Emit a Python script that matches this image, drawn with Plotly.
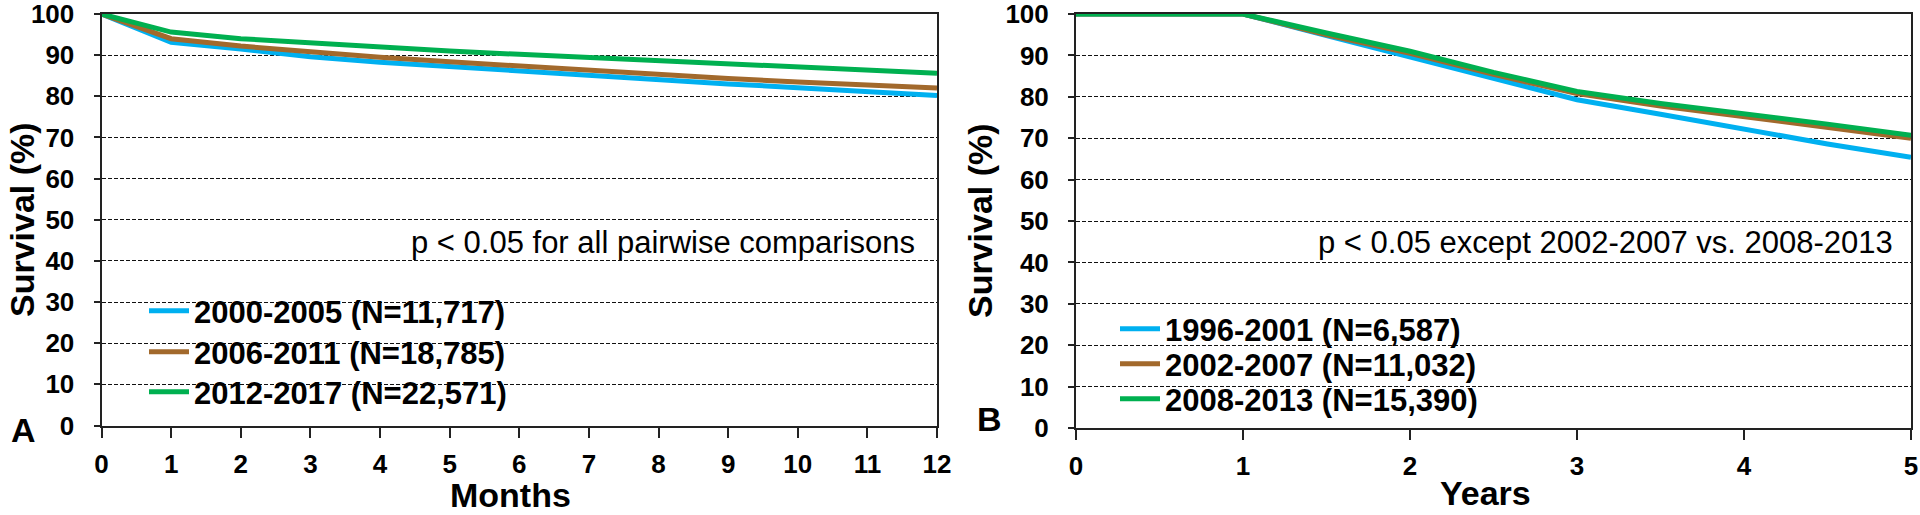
import plotly.graph_objects as go

# ---------------- data ----------------
months = [0, 1, 2, 3, 4, 5, 6, 7, 8, 9, 10, 11, 12]
a_2000_2005 = [100, 93.1, 91.5, 89.6, 88.3, 87.2, 86.1, 85.0, 84.0, 83.0, 82.1, 81.2, 80.2]
a_2006_2011 = [100, 94.0, 92.2, 90.7, 89.5, 88.4, 87.3, 86.2, 85.2, 84.3, 83.5, 82.7, 82.0]
a_2012_2017 = [100, 95.6, 94.0, 92.9, 91.9, 91.0, 90.2, 89.4, 88.6, 87.8, 87.1, 86.3, 85.6]
names_a = ["2000-2005 (N=11,717)", "2006-2011 (N=18,785)", "2012-2017 (N=22,571)"]

years = [0, 1, 1.5, 2, 2.5, 3, 3.5, 4, 4.5, 5]
b_1996_2001 = [100, 100, 94.8, 89.6, 84.3, 79.3, 75.8, 72.2, 68.6, 65.4]
b_2002_2007 = [100, 100, 95.0, 90.5, 85.4, 80.8, 77.8, 75.2, 72.6, 70.0]
b_2008_2013 = [100, 100, 95.4, 91.0, 85.9, 81.3, 78.4, 76.0, 73.4, 70.7]
names_b = ["1996-2001 (N=6,587)", "2002-2007 (N=11,032)", "2008-2013 (N=15,390)"]

y_ticks = [0, 10, 20, 30, 40, 50, 60, 70, 80, 90, 100]
x_ticks_a = months
x_ticks_b = [0, 1, 2, 3, 4, 5]

colors = ["#00B0F0", "#A2692C", "#00B050"]

W, H = 1920, 515
FONT = "Liberation Sans, Arial, sans-serif"


def px(x):
    return x / W


def py(y):
    return (H - y) / H


fig = go.Figure()

series_a = [a_2000_2005, a_2006_2011, a_2012_2017]
series_b = [b_1996_2001, b_2002_2007, b_2008_2013]

for i, (vals, name) in enumerate(zip(series_a, names_a)):
    fig.add_trace(go.Scatter(x=months, y=vals, mode="lines", name=name,
                             line=dict(color=colors[i], width=5),
                             xaxis="x", yaxis="y",
                             legend="legend" if i == 0 else f"legend{i + 1}"))
for i, (vals, name) in enumerate(zip(series_b, names_b)):
    fig.add_trace(go.Scatter(x=years, y=vals, mode="lines", name=name,
                             line=dict(color=colors[i], width=5),
                             xaxis="x2", yaxis="y2",
                             legend=f"legend{i + 4}"))

tickfont = dict(family=FONT, size=26, color="black", weight="bold")

common_x = dict(showgrid=False, zeroline=False, showline=True, linecolor="#222",
                linewidth=2, mirror=True, ticks="outside", ticklen=10, tickwidth=2,
                tickcolor="#222", tickfont=tickfont, ticklabelstandoff=4,
                ticklabeloverflow="allow", automargin=False)
common_y = dict(showgrid=True, gridcolor="#111", gridwidth=1, griddash="4px,2px",
                zeroline=False, showline=True, linecolor="#222", linewidth=2,
                mirror=True, ticks="outside", ticklen=6, tickwidth=2,
                tickcolor="#222", tickfont=tickfont, range=[0, 100],
                tickvals=y_ticks, ticklabelstandoff=14, ticklabeloverflow="allow",
                automargin=False)

fig.update_layout(
    width=W, height=H,
    margin=dict(l=0, r=0, t=0, b=0, autoexpand=False),
    paper_bgcolor="white", plot_bgcolor="white",
    showlegend=True,
    xaxis=dict(domain=[px(101.5), px(937)], anchor="y", range=[0, 12],
               tickvals=x_ticks_a, **common_x),
    yaxis=dict(domain=[py(425.5), py(14)], anchor="x", **common_y),
    xaxis2=dict(domain=[px(1076), px(1911)], anchor="y2", range=[0, 5],
                tickvals=x_ticks_b, **common_x),
    yaxis2=dict(domain=[py(428), py(14)], anchor="x2", **common_y),
)

# white boxes behind the legends (hide gridlines, drawn under the curves)
fig.add_shape(type="rect", xref="paper", yref="paper", layer="between",
              x0=px(110), x1=px(546), y0=py(418), y1=py(280),
              fillcolor="white", line_width=0)
fig.add_shape(type="rect", xref="paper", yref="paper", layer="between",
              x0=px(1086), x1=px(1523), y0=py(420), y1=py(314),
              fillcolor="white", line_width=0)

legfont = dict(family=FONT, size=31, color="black", weight="bold")
leg_a_y = [311, 352, 392]
leg_b_y = [329, 364, 399]
keys = ["legend", "legend2", "legend3", "legend4", "legend5", "legend6"]
ys = leg_a_y + leg_b_y
xs = [144, 144, 144, 1115, 1115, 1115]
for k, xx, yy in zip(keys, xs, ys):
    fig.update_layout({k: dict(x=px(xx), y=py(yy), xref="paper", yref="paper",
                               xanchor="left", yanchor="middle",
                               bgcolor="rgba(0,0,0,0)", borderwidth=0,
                               font=legfont, itemwidth=40,
                               tracegroupgap=0)})

annfont_b = dict(family=FONT, size=34, color="black", weight="bold")
annotations = [
    dict(text="p < 0.05 for all pairwise comparisons", x=px(917), y=py(243),
         xanchor="right", yanchor="middle",
         font=dict(family=FONT, size=31, color="black")),
    dict(text="p < 0.05 except 2002-2007 vs. 2008-2013", x=px(1895), y=py(243),
         xanchor="right", yanchor="middle",
         font=dict(family=FONT, size=31, color="black")),
    dict(text="Months", x=px(510), y=py(495), xanchor="center", yanchor="middle",
         font=annfont_b),
    dict(text="Years", x=px(1485), y=py(493), xanchor="center", yanchor="middle",
         font=annfont_b),
    dict(text="Survival (%)", x=px(22), y=py(220), xanchor="center", yanchor="middle",
         textangle=-90, font=annfont_b),
    dict(text="Survival (%)", x=px(980), y=py(220), xanchor="center", yanchor="middle",
         textangle=-90, font=annfont_b),
    dict(text="A", x=px(23), y=py(430), xanchor="center", yanchor="middle",
         font=dict(family=FONT, size=34, color="black", weight="bold")),
    dict(text="B", x=px(989), y=py(419), xanchor="center", yanchor="middle",
         font=dict(family=FONT, size=34, color="black", weight="bold")),
]
for a in annotations:
    a.update(xref="paper", yref="paper", showarrow=False)
fig.update_layout(annotations=annotations)

fig.write_html("out.html", config={"displayModeBar": False},
               post_script="document.body.style.margin='0px';document.body.style.overflow='hidden';")
